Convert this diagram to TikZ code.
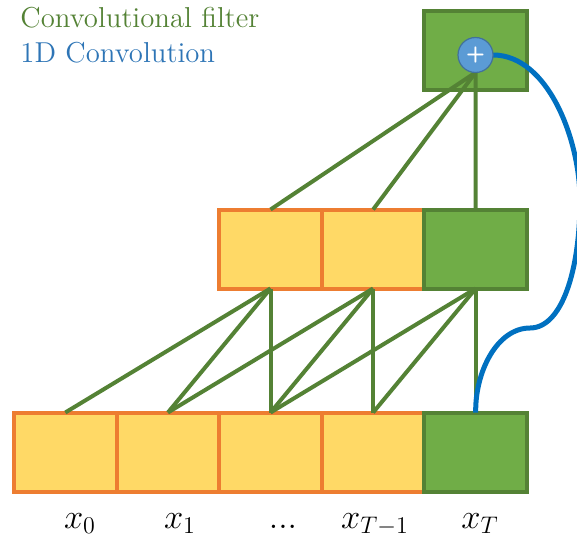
\documentclass[tikz,border=0pt]{standalone}
\usepackage{amsmath,amssymb}
\usepackage{xcolor}
\usepackage{tikz}
\usetikzlibrary{calc}

\definecolor{cellyellow}{HTML}{FFD966}
\definecolor{cellorange}{HTML}{ED7D31}
\definecolor{cellgreen}{HTML}{70AD47}
\definecolor{edgegreen}{HTML}{548235}
\definecolor{sumblue}{HTML}{5B9BD5}
\definecolor{sumedge}{HTML}{41719C}
\definecolor{skipblue}{HTML}{0070C0}
\definecolor{textblue}{HTML}{2E75B6}

\begin{document}
\begin{tikzpicture}[x=0.5pt,y=-0.5pt,
  cell/.style={draw=cellorange,fill=cellyellow,line width=2pt,
    minimum width=51.3pt,minimum height=39.5pt,inner sep=0pt,outer sep=0pt},
  filt/.style={cell,draw=edgegreen,fill=cellgreen},
  wire/.style={edgegreen,line width=2pt},
  lbl/.style={font=\fontsize{18}{22}\selectfont,anchor=base,inner sep=0pt},
  title/.style={font=\fontsize{14.4}{17}\selectfont,anchor=base west,inner sep=0pt}]
  \useasboundingbox (0,0) rectangle (577,540);
  % input row
  \node[cell] (in0) at (65.3,452) {};
  \node[cell] (in1) at (167.9,452) {};
  \node[cell] (in2) at (270.5,452) {};
  \node[cell] (in3) at (373.1,452) {};
  \node[filt] (in4) at (475.7,452) {};
  % hidden row
  \node[cell] (hid2) at (270.5,249) {};
  \node[cell] (hid3) at (373.1,249) {};
  \node[filt] (hid4) at (475.7,249) {};
  % output
  \node[filt] (out) at (475.7,50.5) {};
  \coordinate (sumc) at (475.5,55);
  % filter taps
  \draw[wire] (in0.north) -- (hid2.south);
  \draw[wire] (in1.north) -- (hid2.south);
  \draw[wire] (in2.north) -- (hid2.south);
  \draw[wire] (in1.north) -- (hid3.south);
  \draw[wire] (in2.north) -- (hid3.south);
  \draw[wire] (in3.north) -- (hid3.south);
  \draw[wire] (in2.north) -- (hid4.south);
  \draw[wire] (in3.north) -- (hid4.south);
  \draw[wire] (in4.north) -- (hid4.south);
  \draw[wire] ($(sumc)+(0,17.5)$) -- (hid2.north);
  \draw[wire] ($(sumc)+(0,17.5)$) -- (hid3.north);
  \draw[wire] ($(sumc)+(0,17.5)$) -- (hid4.north);
  % skip connection
  \coordinate (kink) at (530,328);
  \draw[skipblue,line width=2.5pt] ($(sumc)+(17.5,0)$) .. controls (548,55) and (580,140) .. (580,200)
    .. controls (580,270) and (562,328) .. (kink)
    .. controls (497,328) and (475,372) .. (in4.north);
  \node[circle,fill=sumblue,draw=sumedge,line width=0.6pt,minimum size=17.5pt,inner sep=0pt,
    text=white,font=\fontsize{11}{11}\selectfont\sffamily\bfseries] (sum) at (sumc) {+};
  % labels
  \node[lbl] (l0) at (80,528) {$x_0$};
  \node[lbl] (l1) at (180,528) {$x_1$};
  \node[lbl] (l2) at (283,528) {$...$};
  \node[lbl] (l3) at (375,528) {$x_{T-1}$};
  \node[lbl] (l4) at (480,528) {$x_T$};
  \node[title,text=edgegreen] (t1) at (20,28) {Convolutional filter};
  \node[title,text=textblue] (t2) at (20,62) {1D Convolution};
\end{tikzpicture}
\end{document}
